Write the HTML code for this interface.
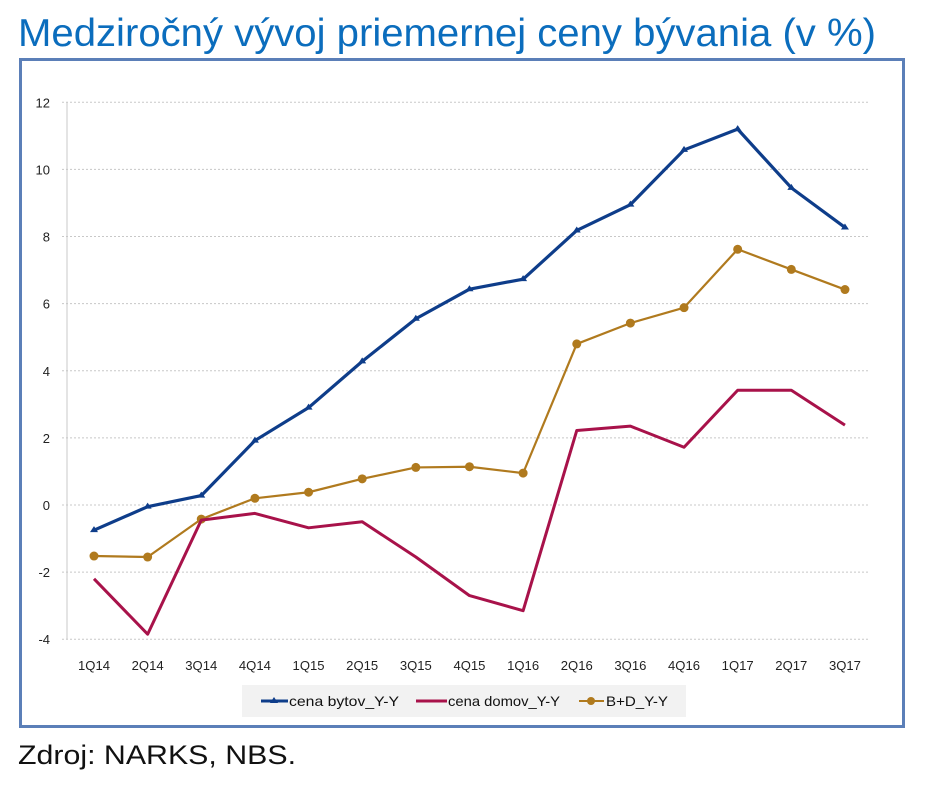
<!DOCTYPE html>
<html><head><meta charset="utf-8"><style>
html,body{margin:0;padding:0;background:#fff;width:926px;height:798px;overflow:hidden}
svg{display:block}
</style></head><body>
<svg id="s" width="926" height="798" xmlns="http://www.w3.org/2000/svg" font-family="Liberation Sans, DejaVu Sans, sans-serif">
<text x="18" y="46" font-size="39" fill="#0b6dbd" textLength="858" lengthAdjust="spacingAndGlyphs">Medziročný vývoj priemernej ceny bývania (v %)</text>
<rect x="20.5" y="59.5" width="883" height="667" fill="#fff" stroke="#5b7fb8" stroke-width="3"/>
<text x="18" y="764" font-size="27" fill="#111" textLength="278" lengthAdjust="spacingAndGlyphs">Zdroj: NARKS, NBS.</text>
<g id="g"></g>
<rect x="242" y="685" width="444" height="32" fill="#f2f2f2"/>
<line x1="261" y1="701" x2="288" y2="701" stroke="#0e3d8a" stroke-width="3"/><path d="M274 697 l4 6 h-8z" fill="#0e3d8a"/>
<text x="289" y="706" font-size="14" fill="#111" textLength="110" lengthAdjust="spacingAndGlyphs">cena bytov_Y-Y</text>
<line x1="416" y1="701" x2="447" y2="701" stroke="#a8124a" stroke-width="3"/>
<text x="448" y="706" font-size="14" fill="#111" textLength="112" lengthAdjust="spacingAndGlyphs">cena domov_Y-Y</text>
<line x1="579" y1="701" x2="604" y2="701" stroke="#b07a1e" stroke-width="2"/><circle cx="591" cy="701" r="4" fill="#b07a1e"/>
<text x="606" y="706" font-size="14" fill="#111" textLength="62" lengthAdjust="spacingAndGlyphs">B+D_Y-Y</text>
</svg>
<script>
var g=document.getElementById('g'),h='';
function Y(v){return 505-v*33.56}
function X(i){return 94+i*53.64}
for(var v=-4;v<=12;v+=2){h+='<line x1="62" x2="868" y1="'+Y(v)+'" y2="'+Y(v)+'" stroke="#c8c8c8" stroke-dasharray="2,2"/>';
h+='<text x="50" y="'+(Y(v)+5)+'" font-size="13" text-anchor="end" fill="#222">'+v+'</text>';}
h+='<line x1="67" x2="67" y1="102" y2="639" stroke="#c8c8c8"/>';
var L=['1Q14','2Q14','3Q14','4Q14','1Q15','2Q15','3Q15','4Q15','1Q16','2Q16','3Q16','4Q16','1Q17','2Q17','3Q17'];
L.forEach(function(l,i){h+='<text x="'+X(i)+'" y="670" font-size="13" text-anchor="middle" fill="#222" textLength="32" lengthAdjust="spacingAndGlyphs">'+l+'</text>';});
var B=[-0.75,-0.05,0.28,1.92,2.9,4.28,5.55,6.43,6.73,8.18,8.95,10.58,11.2,9.45,8.27];
var R=[-2.2,-3.85,-0.45,-0.25,-0.68,-0.5,-1.55,-2.7,-3.15,2.22,2.35,1.72,3.42,3.42,2.38];
var G=[-1.52,-1.55,-0.42,0.2,0.38,0.78,1.12,1.14,0.95,4.8,5.42,5.88,7.62,7.02,6.42];
function line(d,c,w){return '<polyline fill="none" stroke="'+c+'" stroke-width="'+w+'" stroke-linejoin="round" points="'+d.map(function(v,i){return X(i)+','+Y(v)}).join(' ')+'"/>';}
h+=line(G,'#b07a1e',2.2);
G.forEach(function(v,i){h+='<circle cx="'+X(i)+'" cy="'+Y(v)+'" r="4.5" fill="#b07a1e"/>';});
h+=line(R,'#a8124a',3);
h+=line(B,'#0e3d8a',3.2);
B.forEach(function(v,i){h+='<path d="M'+X(i)+' '+(Y(v)-4)+' l4 6 h-8z" fill="#0e3d8a"/>';});
g.innerHTML=h;
</script>
</body></html>
